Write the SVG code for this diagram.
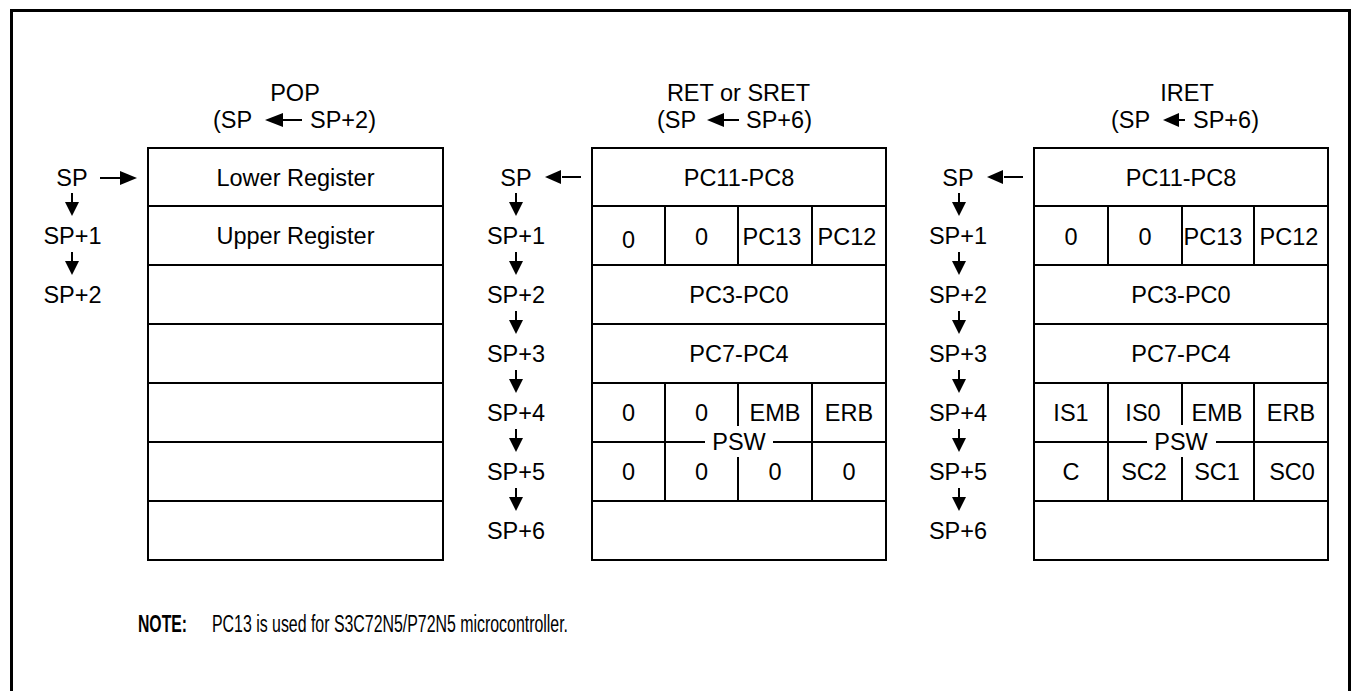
<svg xmlns="http://www.w3.org/2000/svg" width="1352" height="691" viewBox="0 0 1352 691">
<style>
text{font-family:"Liberation Sans",Arial,sans-serif;font-size:23.5px;fill:#000}
.c{text-anchor:middle}
.tbl{fill:none;stroke:#000;stroke-width:2}
.ln{stroke:#000;stroke-width:2;fill:none}
.hd{fill:#000;stroke:none}
</style>
<rect width="1352" height="691" fill="#fff"/>
<path d="M11.5 700 V10.5 H1349.5 V700" fill="none" stroke="#000" stroke-width="3"/>

<!-- POP -->
<g id="pop">
<text class="c" x="295" y="101">POP</text>
<text x="213" y="128">(SP</text>
<text x="310" y="128">SP+2)</text>
<line class="ln" x1="281" y1="120" x2="302" y2="120"/>
<polygon class="hd" points="265,120 283,113 283,127"/>
<rect class="tbl" x="148" y="148" width="295" height="412"/>
<path class="ln" d="M148 206H443M148 265H443M148 324H443M148 383H443M148 442H443M148 501H443"/>
<text class="c" x="295.5" y="185.5">Lower Register</text>
<text class="c" x="295.5" y="244">Upper Register</text>
</g>

<!-- RET -->
<g id="ret">
<text class="c" x="738.5" y="101">RET or SRET</text>
<text x="657" y="128">(SP</text>
<text x="746" y="128">SP+6)</text>
<line class="ln" x1="722" y1="120" x2="739" y2="120"/>
<polygon class="hd" points="707,120 724,113 724,127"/>
<rect class="tbl" x="592" y="148" width="294" height="412"/>
<path class="ln" d="M592 206H886M592 265H886M592 324H886M592 383H886M592 442H705M773 442H886M592 501H886"/>
<path class="ln" d="M665 206V265M738 206V265M812 206V265M665 383V501M812 383V501M738 383V426M738 457V501"/>
<text class="c" x="739" y="185.5">PC11-PC8</text>
<text class="c" x="628.5" y="248">0</text>
<text class="c" x="701.5" y="245">0</text>
<text class="c" x="772" y="245">PC13</text>
<text class="c" x="847" y="245">PC12</text>
<text class="c" x="739" y="303">PC3-PC0</text>
<text class="c" x="739" y="362">PC7-PC4</text>
<text class="c" x="628.5" y="421">0</text>
<text class="c" x="701.5" y="421">0</text>
<text class="c" x="775" y="421">EMB</text>
<text class="c" x="849" y="421">ERB</text>
<text class="c" x="739" y="450">PSW</text>
<text class="c" x="628.5" y="480">0</text>
<text class="c" x="701.5" y="480">0</text>
<text class="c" x="775" y="480">0</text>
<text class="c" x="849" y="480">0</text>
</g>

<!-- IRET -->
<g id="iret">
<text class="c" x="1187" y="101">IRET</text>
<text x="1111" y="128">(SP</text>
<text x="1193" y="128">SP+6)</text>
<line class="ln" x1="1176" y1="120" x2="1185" y2="120"/>
<polygon class="hd" points="1163,120 1179,113 1179,127"/>
<rect class="tbl" x="1034" y="148" width="294" height="412"/>
<path class="ln" d="M1034 206H1328M1034 265H1328M1034 324H1328M1034 383H1328M1034 442H1147M1216 442H1328M1034 501H1328"/>
<path class="ln" d="M1108 206V265M1182 206V265M1254 206V265M1108 383V501M1254 383V501M1182 383V425M1182 457V501"/>
<text class="c" x="1181" y="185.5">PC11-PC8</text>
<text class="c" x="1071" y="245">0</text>
<text class="c" x="1145" y="245">0</text>
<text class="c" x="1213" y="245">PC13</text>
<text class="c" x="1289" y="245">PC12</text>
<text class="c" x="1181" y="303">PC3-PC0</text>
<text class="c" x="1181" y="362">PC7-PC4</text>
<text class="c" x="1071" y="421">IS1</text>
<text class="c" x="1143" y="421">IS0</text>
<text class="c" x="1217" y="421">EMB</text>
<text class="c" x="1291" y="421">ERB</text>
<text class="c" x="1181" y="450">PSW</text>
<text class="c" x="1071" y="480">C</text>
<text class="c" x="1144" y="480">SC2</text>
<text class="c" x="1217" y="480">SC1</text>
<text class="c" x="1292" y="480">SC0</text>
</g>

<!-- SP labels -->
<g id="pop-sp">
<text class="c" x="72" y="185.5">SP</text>
<text class="c" x="72.5" y="244">SP+1</text>
<text class="c" x="72.5" y="303">SP+2</text>
</g>
<g id="ret-sp">
<text class="c" x="516" y="185.5">SP</text>
<text class="c" x="516" y="244">SP+1</text>
<text class="c" x="516" y="303">SP+2</text>
<text class="c" x="516" y="362">SP+3</text>
<text class="c" x="516" y="421">SP+4</text>
<text class="c" x="516" y="480">SP+5</text>
<text class="c" x="516" y="539">SP+6</text>
</g>
<g id="iret-sp">
<text class="c" x="958" y="185.5">SP</text>
<text class="c" x="958" y="244">SP+1</text>
<text class="c" x="958" y="303">SP+2</text>
<text class="c" x="958" y="362">SP+3</text>
<text class="c" x="958" y="421">SP+4</text>
<text class="c" x="958" y="480">SP+5</text>
<text class="c" x="958" y="539">SP+6</text>
</g>

<!-- connectors -->
<g id="connectors">
<line class="ln" x1="100" y1="178" x2="122" y2="178"/>
<polygon class="hd" points="137,178 120,171 120,185"/>
<line class="ln" x1="562" y1="177" x2="581" y2="177"/>
<polygon class="hd" points="545,177 561,170 561,184"/>
<line class="ln" x1="1004" y1="177" x2="1023" y2="177"/>
<polygon class="hd" points="987,177 1003,170 1003,184"/>
<g id="pop-down">
<path class="ln" d="M72 193V204M72 252V263"/>
<polygon class="hd" points="65,202 79,202 72,216"/>
<polygon class="hd" points="65,261 79,261 72,275"/>
</g>
<g id="ret-down">
<path class="ln" d="M516 193V204M516 252V263M516 311V322M516 370V381M516 429V440M516 488V499"/>
<polygon class="hd" points="509,202 523,202 516,216"/>
<polygon class="hd" points="509,261 523,261 516,275"/>
<polygon class="hd" points="509,320 523,320 516,334"/>
<polygon class="hd" points="509,379 523,379 516,393"/>
<polygon class="hd" points="509,438 523,438 516,452"/>
<polygon class="hd" points="509,497 523,497 516,511"/>
</g>
<g id="iret-down">
<path class="ln" d="M959 193V204M959 252V263M959 311V322M959 370V381M959 429V440M959 488V499"/>
<polygon class="hd" points="952,202 966,202 959,216"/>
<polygon class="hd" points="952,261 966,261 959,275"/>
<polygon class="hd" points="952,320 966,320 959,334"/>
<polygon class="hd" points="952,379 966,379 959,393"/>
<polygon class="hd" points="952,438 966,438 959,452"/>
<polygon class="hd" points="952,497 966,497 959,511"/>
</g>
</g>

<g id="note">
<text x="138" y="632" font-weight="bold" textLength="49" lengthAdjust="spacingAndGlyphs">NOTE:</text>
<text x="212" y="632" textLength="356" lengthAdjust="spacingAndGlyphs">PC13 is used for S3C72N5/P72N5 microcontroller.</text>
</g>
</svg>
